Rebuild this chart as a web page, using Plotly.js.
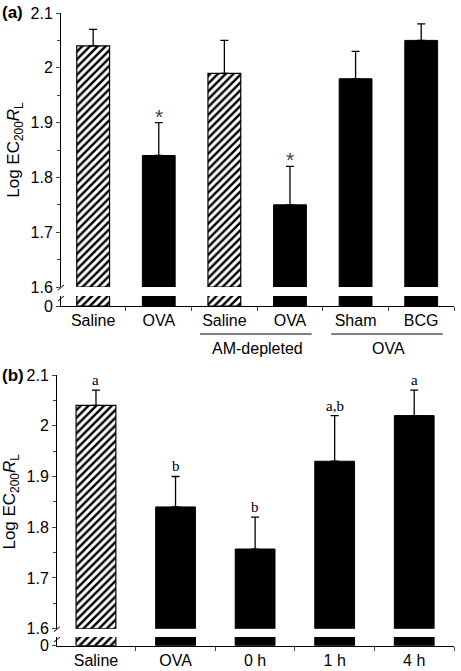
<!DOCTYPE html>
<html><head><meta charset="utf-8">
<script src="https://cdn.plot.ly/plotly-3.0.1.min.js"></script>
<style>body{margin:0;background:#fff}#chart{width:461px;height:671px}</style>
</head><body><div id="chart"></div>
<script>
// ---------- data ----------
const catsA = ['Saline', 'OVA', 'Saline', 'OVA', 'Sham', 'BCG'];
const valsA = [2.04, 1.84, 1.99, 1.75, 1.98, 2.05];
const errTopA = [2.07, 1.90, 2.05, 1.82, 2.03, 2.08];
const hatchA = [true, false, true, false, false, false];
const markA = ['', '*', '', '*', '', ''];
const groupLabelsA = ['AM-depleted', 'OVA'];
const groupFromA = [2, 4];
const groupToA = [3, 5];

const catsB = ['Saline', 'OVA', '0 h', '1 h', '4 h'];
const valsB = [2.04, 1.84, 1.757, 1.93, 2.02];
const errTopB = [2.07, 1.90, 1.82, 2.02, 2.07];
const hatchB = [true, false, false, false, false];
const markB = ['a', 'b', 'b', 'a,b', 'a'];

const yTickVals = [1.6, 1.7, 1.8, 1.9, 2.0, 2.1];
const yTickText = ['1.6', '1.7', '1.8', '1.9', '2', '2.1'];
const yMinorVals = [1.65, 1.75, 1.85, 1.95, 2.05];
const yBreak = 1.6;
const yTop = 2.1;

// ---------- helpers ----------
const W = 461, H = 671;
const fx = p => p / W;
const fy = p => (H - p) / H;
const FONT = 'Liberation Sans, Arial, sans-serif';
const SERIF = 'Liberation Serif, Times New Roman, serif';

function barTraces(cats, vals, errTop, hatch, xa, yUp, yLow) {
  const out = [];
  [true, false].forEach(h => {
    const idx = [], v = [], e = [];
    cats.forEach((c, i) => { if (hatch[i] === h) { idx.push(i); v.push(vals[i]); e.push(errTop[i]); } });
    if (!idx.length) return;
    const marker = h
      ? {color: 'white', pattern: {shape: '/', fgcolor: 'black', bgcolor: 'white', size: 5.5, solidity: 0.45, fillmode: 'replace'},
         line: {color: 'black', width: 1.2}}
      : {color: 'black', line: {color: 'black', width: 1}};
    out.push({
      type: 'bar', x: idx, y: v.map(t => t - yBreak), base: v.map(() => yBreak),
      width: 0.5, xaxis: xa, yaxis: yUp, marker: marker,
      error_y: {type: 'data', symmetric: false, array: e.map((t, i) => t - v[i]),
                arrayminus: v.map(() => 0), color: 'black', thickness: 1.3, width: 4},
      hoverinfo: 'skip'
    });
    out.push({
      type: 'bar', x: idx, y: v, width: 0.5, xaxis: xa, yaxis: yLow, marker: marker, hoverinfo: 'skip'
    });
  });
  return out;
}

const traces = [
  ...barTraces(catsA, valsA, errTopA, hatchA, 'x', 'y', 'y2'),
  ...barTraces(catsB, valsB, errTopB, hatchB, 'x2', 'y3', 'y4')
];

const tickFont = {family: FONT, size: 16, color: 'black'};
const ttl = 'Log EC<sub>200</sub><i>R</i><sub>L</sub>';

function yUpper(dom, anchor) {
  return {
    domain: dom, anchor: anchor, range: [yBreak, yTop], tickmode: 'array',
    tickvals: yTickVals, ticktext: yTickText, ticks: 'outside', ticklen: 4, tickwidth: 1,
    minor: {tickvals: yMinorVals, ticks: 'outside', ticklen: 3, tickwidth: 1, showgrid: false},
    showline: true, linecolor: 'black', linewidth: 1, showgrid: false, zeroline: false,
    tickfont: tickFont, title: {text: ttl, font: {family: FONT, size: 17, color: 'black'}, standoff: 6},
    fixedrange: true
  };
}
function yLower(dom, anchor) {
  return {
    domain: dom, anchor: anchor, range: [0, 1], tickmode: 'array', tickvals: [0], ticktext: ['0'],
    ticks: 'outside', ticklen: 4, tickwidth: 1, showline: true, linecolor: 'black', linewidth: 1,
    showgrid: false, zeroline: false, tickfont: tickFont, fixedrange: true
  };
}
function xAxis(dom, anchor, cats) {
  return {
    domain: dom, anchor: anchor, range: [-0.49, cats.length - 0.5], tickmode: 'array',
    tickvals: cats.map((c, i) => i), ticktext: cats, ticks: '',
    minor: {tickvals: cats.map((c, i) => i + 0.5), ticks: 'outside', ticklen: 4, tickwidth: 1, showgrid: false},
    showline: true, linecolor: 'black', linewidth: 1, showgrid: false, zeroline: false,
    tickfont: {family: FONT, size: 16, color: 'black'}, fixedrange: true
  };
}

// pixel geometry of panels
const A = {x0: 61, x1: 454, top: 13, brk: 287, stubTop: 296, zero: 306};
const B = {x0: 57, x1: 454, top: 375, brk: 628.7, stubTop: 637, zero: 645.7};

const annotations = [];
const shapes = [];

// significance marks
markA.forEach((m, i) => {
  if (m) annotations.push({x: i, y: errTopA[i], xref: 'x', yref: 'y', text: m, showarrow: false,
    yanchor: 'bottom', yshift: -7, font: {family: FONT, size: 21, color: '#444'}});
});
markB.forEach((m, i) => {
  if (m) annotations.push({x: i, y: errTopB[i], xref: 'x2', yref: 'y3', text: m, showarrow: false,
    yanchor: 'bottom', yshift: 0, font: {family: SERIF, size: 15, color: 'black'}});
});

// group labels (panel a)
groupLabelsA.forEach((g, k) => {
  shapes.push({type: 'line', xref: 'x', yref: 'paper', x0: groupFromA[k] - 0.37, x1: groupToA[k] + 0.33,
    y0: fy(334), y1: fy(334), line: {color: 'black', width: 1}});
  annotations.push({x: (groupFromA[k] + groupToA[k]) / 2, xref: 'x', y: fy(348), yref: 'paper',
    text: g, showarrow: false, yanchor: 'middle', font: {family: FONT, size: 16, color: 'black'}});
});

// axis break marks
[A, B].forEach(P => {
  const ax = P.x0;
  shapes.push({type: 'line', xref: 'paper', yref: 'paper', x0: fx(ax - 3), y0: fy(P.brk + 3),
    x1: fx(ax + 3), y1: fy(P.brk - 2), line: {color: 'black', width: 1}});
  shapes.push({type: 'line', xref: 'paper', yref: 'paper', x0: fx(ax - 3), y0: fy(P.stubTop + 5),
    x1: fx(ax + 3), y1: fy(P.stubTop), line: {color: 'black', width: 1}});
});

// panel letters
annotations.push({x: fx(0), y: fy(13), xref: 'paper', yref: 'paper', text: '<b>(a)</b>', showarrow: false,
  xanchor: 'left', yanchor: 'middle', font: {family: FONT, size: 17, color: 'black'}});
annotations.push({x: fx(0), y: fy(375), xref: 'paper', yref: 'paper', text: '<b>(b)</b>', showarrow: false,
  xanchor: 'left', yanchor: 'middle', font: {family: FONT, size: 17, color: 'black'}});

const layout = {
  width: W, height: H, margin: {l: 0, r: 0, t: 0, b: 0},
  paper_bgcolor: 'white', plot_bgcolor: 'rgba(0,0,0,0)', showlegend: false, barmode: 'overlay',
  xaxis: xAxis([fx(A.x0), fx(A.x1)], 'y2', catsA),
  yaxis: yUpper([fy(A.brk), fy(A.top)], 'x'),
  yaxis2: yLower([fy(A.zero), fy(A.stubTop)], 'x'),
  xaxis2: xAxis([fx(B.x0), fx(B.x1)], 'y4', catsB),
  yaxis3: yUpper([fy(B.brk), fy(B.top)], 'x2'),
  yaxis4: yLower([fy(B.zero), fy(B.stubTop)], 'x2'),
  annotations: annotations, shapes: shapes
};

Plotly.newPlot('chart', traces, layout, {displayModeBar: false, staticPlot: true});
</script></body></html>
